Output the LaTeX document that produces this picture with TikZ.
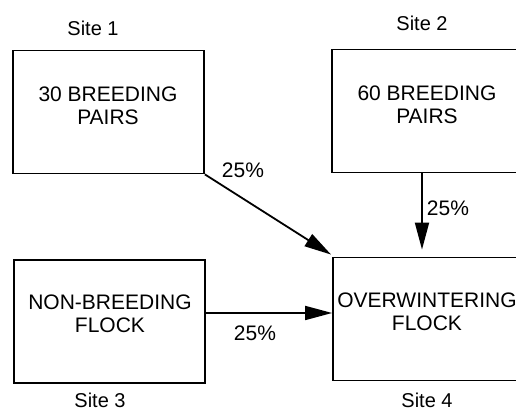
\documentclass[tikz,border=0pt]{standalone}
\usepackage{fontspec}
\setmainfont{Liberation Sans}
\usetikzlibrary{arrows.meta}
\begin{document}
\begin{tikzpicture}[x=0.5pt,y=0.5pt,
  box/.style={draw,line width=0.9pt,minimum width=95.5pt,minimum height=61.5pt,inner sep=0pt},
  boxtext/.style={align=center,font=\fontsize{10.5}{11.5}\selectfont},
  site/.style={font=\fontsize{10}{12}\selectfont},
  pct/.style={font=\fontsize{10.5}{12}\selectfont},
  flow/.style={line width=0.9pt,-{Triangle[length=13.5pt,width=7pt]}}]
\useasboundingbox (0,0) rectangle (516,412);
\node[box] (s1) at (108.5,300) {};
\node[box] (s2) at (427.5,301) {};
\node[box] (s3) at (109.5,90.5) {};
\node[box] (s4) at (428.5,93) {};
\node[boxtext] (t1) at (108,306.5) {30 BREEDING\\PAIRS};
\node[boxtext] (t2) at (427,307.5) {60 BREEDING\\PAIRS};
\node[boxtext] (t3) at (110,98.5) {NON-BREEDING\\FLOCK};
\node[boxtext] (t4) at (427,100.5) {OVERWINTERING\\FLOCK};
\node[site] (l1) at (93,384) {Site 1};
\node[site] (l2) at (422,389) {Site 2};
\node[site] (l3) at (100,12) {Site 3};
\node[site] (l4) at (427,12) {Site 4};
\draw[flow] (s1.south east) -- ([shift={(-0.5pt,1pt)}]s4.north west);
\draw[flow] ([xshift=-2.75pt]s2.south) -- ([shift={(-3.25pt,3.5pt)}]s4.north);
\draw[flow] ([yshift=4.25pt]s3.east) -- ([yshift=3pt]s4.west);
\node[pct] (p1) at (243,242) {25\%};
\node[pct] (p2) at (448,204) {25\%};
\node[pct] (p3) at (255,79) {25\%};
\end{tikzpicture}
\end{document}
